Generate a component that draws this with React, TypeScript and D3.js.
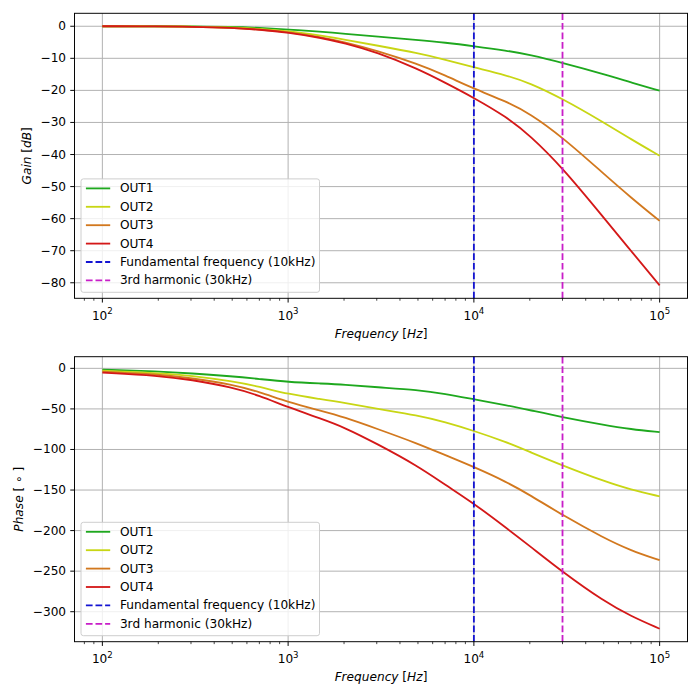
import React from "react";
import * as d3 from "d3";

const freqs = [100, 200, 300, 500, 700, 1000, 1500, 2000, 3000, 5000, 7000, 10000, 15000, 20000, 30000, 50000, 70000, 100000];

// gain [dB]
const gainOut1 = [0, 0, -0.05, -0.2, -0.5, -1.0, -1.7, -2.3, -3.2, -4.3, -5.1, -6.2, -7.6, -8.9, -11.4, -14.9, -17.5, -20.1];
const gainOut2 = [0, 0, -0.1, -0.35, -0.8, -1.5, -2.9, -4.1, -6.0, -8.4, -10.4, -12.8, -15.3, -17.7, -22.6, -30.0, -35.2, -40.4];
const gainOut3 = [0, -0.05, -0.15, -0.45, -1.0, -1.8, -3.4, -4.9, -7.6, -11.8, -15.3, -19.5, -23.5, -27.2, -34.6, -46.0, -53.4, -60.7];
const gainOut4 = [0, -0.05, -0.15, -0.5, -1.05, -1.9, -3.6, -5.2, -8.1, -13.3, -17.6, -22.3, -28.3, -34.0, -44.1, -59.7, -70.0, -80.8];

// phase [deg]
const phaseOut1 = [-1.6, -3.7, -6.1, -9.8, -13.1, -16.8, -18.7, -20.0, -23.3, -26.6, -31.5, -38.2, -45.5, -51.5, -60.2, -69.7, -75.0, -78.7];
const phaseOut2 = [-2.9, -5.7, -9.0, -15.9, -22.5, -31.8, -38.0, -42.5, -49.9, -58.0, -66.2, -77.0, -91.0, -103.0, -119.7, -139.0, -149.6, -157.8];
const phaseOut3 = [-4.1, -7.4, -11.9, -20.0, -29.0, -41.5, -52.2, -60.0, -74.4, -92.8, -107.0, -121.5, -140.0, -156.0, -181.0, -209.0, -224.6, -236.5];
const phaseOut4 = [-5.3, -9.0, -13.9, -23.3, -33.5, -48.0, -62.0, -72.6, -92.8, -120.5, -143.5, -166.5, -197.0, -219.0, -251.0, -287.0, -305.5, -321.0];

const seriesNames = ["OUT1", "OUT2", "OUT3", "OUT4"];
const seriesColors = ["#1ea81e", "#c8d614", "#d2781e", "#d41818"];

const markerFreqs = [10000, 30000];
const markerNames = ["Fundamental frequency (10kHz)", "3rd harmonic (30kHz)"];
const markerColors = ["#1414d2", "#c81ec8"];

const gainTicks = [0, -10, -20, -30, -40, -50, -60, -70, -80];
const phaseTicks = [0, -50, -100, -150, -200, -250, -300];
const decadeTicks = [100, 1000, 10000, 100000];
const decadeExps = ["2", "3", "4", "5"];

const FONT = "DejaVu Sans";
const FS = 12.15;
const LW = 1.82;
const left = 74.5;
const right = 687.5;
const panelH = 285;

const minus = (v: number) => String(v).replace("-", "\u2212");

type PanelProps = {
  top: number;
  values: number[][];
  yTicks: number[];
  yLabel: React.ReactNode;
  yLabelX: number;
};

const Panel = ({ top, values, yTicks, yLabel, yLabelX }: PanelProps) => {
  const bottom = top + panelH;
  const x = d3.scaleLog().domain([10 ** 1.85, 10 ** 5.15]).range([left, right]);
  const [lo, hi] = d3.extent(values.flat()) as [number, number];
  const pad = (hi - lo) * 0.05;
  const y = d3.scaleLinear().domain([lo - pad, hi + pad]).range([bottom, top]);

  // basis spline smooths out the reading noise in the sampled points
  const line = d3
    .line<number>()
    .x((_, i) => x(freqs[i]))
    .y((d) => y(d))
    .curve(d3.curveBasis);

  // log minor ticks 2..9 per decade inside the domain
  const [d0, d1] = x.domain();
  const minor: number[] = [];
  for (let e = 1; e <= 5; e++)
    for (let k = 2; k <= 9; k++) {
      const f = k * 10 ** e;
      if (f >= d0 && f <= d1) minor.push(f);
    }

  const legendItems = [
    ...seriesNames.map((n, i) => ({ name: n, color: seriesColors[i], dash: undefined as string | undefined })),
    ...markerNames.map((n, i) => ({ name: n, color: markerColors[i], dash: "6.7 2.9" })),
  ];
  const legW = 238.5;
  const legH = 113.4;
  const legX = left + 6.5;
  const legY = bottom - 6 - legH;
  const midY = (top + bottom) / 2;

  return (
    <g>
      {/* grid */}
      {decadeTicks.map((f) => (
        <line key={"gx" + f} x1={x(f)} x2={x(f)} y1={top} y2={bottom} stroke="#b0b0b0" strokeWidth={0.97} />
      ))}
      {yTicks.map((t) => (
        <line key={"gy" + t} x1={left} x2={right} y1={y(t)} y2={y(t)} stroke="#b0b0b0" strokeWidth={0.97} />
      ))}

      {/* curves */}
      {values.map((v, i) => (
        <path key={seriesNames[i]} d={line(v) || ""} fill="none" stroke={seriesColors[i]} strokeWidth={LW} />
      ))}
      {markerFreqs.map((f, i) => (
        <line key={"m" + f} x1={x(f)} x2={x(f)} y1={top} y2={bottom} stroke={markerColors[i]} strokeWidth={LW} strokeDasharray="6.7 2.9" />
      ))}

      {/* frame */}
      <rect x={left} y={top} width={right - left} height={panelH} fill="none" stroke="#000" strokeWidth={0.97} />

      {/* x ticks */}
      {decadeTicks.map((f, i) => (
        <g key={"xt" + f}>
          <line x1={x(f)} x2={x(f)} y1={bottom} y2={bottom + 4.25} stroke="#000" strokeWidth={0.97} />
          <text x={x(f)} y={bottom + 21.5} textAnchor="middle" fontFamily={FONT} fontSize={FS}>
            10<tspan dy={-5.5} fontSize={8.6}>{decadeExps[i]}</tspan>
          </text>
        </g>
      ))}
      {minor.map((f) => (
        <line key={"mt" + f} x1={x(f)} x2={x(f)} y1={bottom} y2={bottom + 2.43} stroke="#000" strokeWidth={0.73} />
      ))}

      {/* y ticks */}
      {yTicks.map((t) => (
        <g key={"yt" + t}>
          <line x1={left - 4.25} x2={left} y1={y(t)} y2={y(t)} stroke="#000" strokeWidth={0.97} />
          <text x={left - 8.4} y={y(t)} textAnchor="end" dominantBaseline="central" fontFamily={FONT} fontSize={FS}>
            {minus(t)}
          </text>
        </g>
      ))}

      {/* axis labels */}
      <text x={(left + right) / 2} y={bottom + 39.5} textAnchor="middle" fontFamily={FONT} fontSize={FS}>
        <tspan fontStyle="italic">Frequency</tspan> [<tspan fontStyle="italic">Hz</tspan>]
      </text>
      <text
        transform={`translate(${yLabelX},${midY}) rotate(-90)`}
        textAnchor="middle"
        dominantBaseline="central"
        fontFamily={FONT}
        fontSize={FS}
      >
        {yLabel}
      </text>

      {/* legend */}
      <rect x={legX} y={legY} width={legW} height={legH} rx={2.4} fill="#fff" fillOpacity={0.8} stroke="#cccccc" strokeWidth={0.97} />
      {legendItems.map((it, i) => {
        const cy = legY + 9.5 + i * 18.4;
        return (
          <g key={it.name}>
            <line x1={legX + 4.9} x2={legX + 29.2} y1={cy} y2={cy} stroke={it.color} strokeWidth={LW} strokeDasharray={it.dash} />
            <text x={legX + 38.9} y={cy} dominantBaseline="central" fontFamily={FONT} fontSize={FS}>
              {it.name}
            </text>
          </g>
        );
      })}
    </g>
  );
};

const App = () => {
  return (
    <svg width={700} height={700} style={{ position: "absolute", left: 0, top: 0, background: "#fff" }}>
      <Panel
        top={13.3}
        values={[gainOut1, gainOut2, gainOut3, gainOut4]}
        yTicks={gainTicks}
        yLabelX={27}
        yLabel={
          <>
            <tspan fontStyle="italic">Gain</tspan> [<tspan fontStyle="italic">dB</tspan>]
          </>
        }
      />
      <Panel
        top={356.7}
        values={[phaseOut1, phaseOut2, phaseOut3, phaseOut4]}
        yTicks={phaseTicks}
        yLabelX={19}
        yLabel={
          <>
            <tspan fontStyle="italic">Phase</tspan> [ ∘ ]
          </>
        }
      />
    </svg>
  );
};

export default App;
